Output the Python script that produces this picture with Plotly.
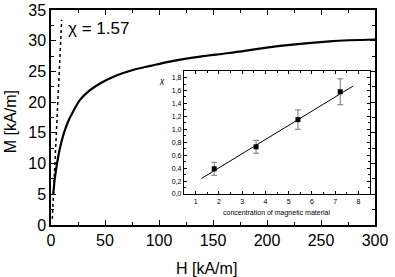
import plotly.graph_objects as go

# Main curve: magnetization M vs field H
H = [2, 4, 8, 12, 16, 20, 27, 35, 45, 60, 75, 92, 110, 138, 165, 212, 258, 300]
M = [4.9, 8.2, 12.3, 15.0, 16.9, 18.3, 20.4, 21.8, 23.0, 24.3, 25.2, 25.9, 26.6, 27.4, 28.0, 29.15, 29.9, 30.2]

# Initial susceptibility line (chi = 1.57)
chi_H = [1.2, 9.9]
chi_M = [1.0, 33.4]

# Inset: susceptibility vs concentration
conc = [1.8, 3.6, 5.4, 7.22]
chi = [0.39, 0.73, 1.15, 1.58]
chi_err = [0.1, 0.1, 0.15, 0.2]
fit_x = [1.25, 7.78]
fit_y = [0.24, 1.67]

main_xticks = [0, 50, 100, 150, 200, 250, 300]
main_yticks = [0, 5, 10, 15, 20, 25, 30, 35]
inset_xticks = [1, 2, 3, 4, 5, 6, 7, 8]
inset_yticks = [0.0, 0.2, 0.4, 0.6, 0.8, 1.0, 1.2, 1.4, 1.6, 1.8]
inset_yticktext = ["0,0", "0,2", "0,4", "0,6", "0,8", "1,0", "1,2", "1,4", "1,6", "1,8"]

FONT = "Liberation Sans, Arial, sans-serif"

fig = go.Figure()
fig.add_trace(go.Scatter(x=chi_H, y=chi_M, mode="lines",
                         line=dict(color="black", width=1.5, dash="dot"),
                         xaxis="x", yaxis="y", showlegend=False))
fig.add_trace(go.Scatter(x=H, y=M, mode="lines", line=dict(color="black", width=2.2, shape="spline", smoothing=1),
                         xaxis="x", yaxis="y", showlegend=False))
fig.add_trace(go.Scatter(x=fit_x, y=fit_y, mode="lines", line=dict(color="black", width=1),
                         xaxis="x2", yaxis="y2", showlegend=False))
fig.add_trace(go.Scatter(x=conc, y=chi, mode="markers",
                         marker=dict(symbol="square", size=5, color="black"),
                         error_y=dict(type="data", array=chi_err, color="#777777", thickness=1, width=3),
                         xaxis="x2", yaxis="y2", showlegend=False))

axis_common = dict(showline=True, linecolor="black", mirror="ticks",
                   ticks="inside", tickcolor="black", showgrid=False, zeroline=False, automargin=False)

fig.update_layout(
    width=395, height=277,
    margin=dict(l=51, r=20, t=10, b=52, autoexpand=False),
    paper_bgcolor="white", plot_bgcolor="white",
    font=dict(family=FONT, color="black"),
    xaxis=dict(range=[0, 300], tickvals=main_xticks, ticklen=5, tickwidth=1, linewidth=1.5,
               tickfont=dict(size=16), minor=dict(ticks="inside", ticklen=3, dtick=25, tickcolor="black"),
               domain=[0, 1], **axis_common),
    yaxis=dict(range=[0, 35], tickvals=main_yticks, ticklen=5, tickwidth=1, linewidth=1.5,
               tickfont=dict(size=16), minor=dict(ticks="inside", ticklen=3, dtick=2.5, tickcolor="black"),
               domain=[0, 1], **axis_common),
    xaxis2=dict(range=[0.5, 8.5], tickvals=inset_xticks, ticklen=3, tickwidth=1, linewidth=1.2,
                tickfont=dict(size=7), minor=dict(ticks="inside", ticklen=2, dtick=0.5, tickcolor="black"),
                domain=[0.4105, 0.9846], anchor="y2", **axis_common),
    yaxis2=dict(range=[0, 1.9], tickvals=inset_yticks, ticktext=inset_yticktext, ticklen=3, tickwidth=1,
                linewidth=1.2,
                tickfont=dict(size=7), minor=dict(ticks="inside", ticklen=2, dtick=0.1, tickcolor="black"),
                domain=[0.144, 0.716], anchor="x2", **axis_common),
    annotations=[
        dict(text="χ = 1.57", x=0.046, y=0.912, xref="paper", yref="paper", xanchor="left", yanchor="middle",
             showarrow=False, font=dict(size=17)),
        dict(text="H [kA/m]", x=0.481, y=-0.2, xref="paper", yref="paper", xanchor="center", yanchor="middle",
             showarrow=False, font=dict(size=16)),
        dict(text="M [kA/m]", x=-0.126, y=0.479, xref="paper", yref="paper", xanchor="center", yanchor="middle",
             textangle=-90, showarrow=False, font=dict(size=16)),
        dict(text="<i>χ</i>", x=0.342, y=0.674, xref="paper", yref="paper", xanchor="center", yanchor="middle",
             showarrow=False, font=dict(size=8)),
        dict(text="concentration of magnetic material", x=0.697, y=0.057, xref="paper", yref="paper",
             xanchor="center", yanchor="middle", showarrow=False, font=dict(size=7)),
    ],
)

fig.write_html("out.html", config={"displayModeBar": False},
               post_script="document.body.style.margin='0';document.body.style.padding='0';")
